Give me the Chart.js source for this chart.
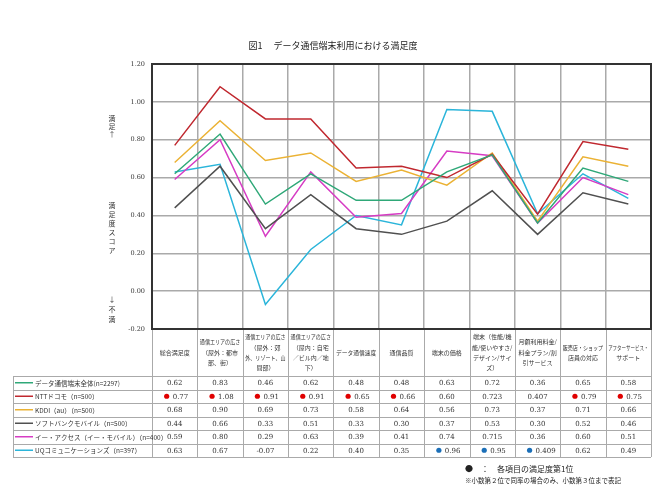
<!DOCTYPE html>
<html>
<head>
<meta charset="utf-8">
<title>データ通信端末利用における満足度</title>
<script src="https://cdn.jsdelivr.net/npm/chart.js"></script>
<style>
  html, body { margin: 0; padding: 0; background: #fff; }
</style>
</head>
<body>
<canvas id="satChart" width="666" height="500"></canvas>
<script>
// categories (header text is wrapped the way the table shows it)
const categories = [
  '総合満足度',
  '通信エリアの広さ（屋外：都市部、街）',
  '通信エリアの広さ（屋外：郊外、リゾート、山間部）',
  '通信エリアの広さ（屋内：自宅／ビル内／地下）',
  'データ通信速度',
  '通信品質',
  '端末の価格',
  '端末（性能/機能/使いやすさ/デザイン/サイズ）',
  '月額利用料金/料金プラン/割引サービス',
  '販売店・ショップ店員の対応',
  'アフターサービス・サポート'
];
const headerLines = [
  ['総合満足度'],
  ['通信エリアの広さ', '（屋外：都市', '部、街）'],
  ['通信エリアの広さ', '（屋外：郊', '外、リゾート、山', '間部）'],
  ['通信エリアの広さ', '（屋内：自宅', '／ビル内／地', '下）'],
  ['データ通信速度'],
  ['通信品質'],
  ['端末の価格'],
  ['端末（性能/機', '能/使いやすさ/', 'デザイン/サイ', 'ズ）'],
  ['月額利用料金/', '料金プラン/割', '引サービス'],
  ['販売店・ショップ', '店員の対応'],
  ['アフターサービス・', 'サポート']
];

const seriesNames = [
  'データ通信端末全体(n=2297)',
  'NTTドコモ（n=500）',
  'KDDI（au）（n=500）',
  'ソフトバンクモバイル（n=500）',
  'イー・アクセス（イー・モバイル）（n=400）',
  'UQコミュニケーションズ（n=397）'
];
const zentai   = [0.62, 0.83, 0.46, 0.62, 0.48, 0.48, 0.63, 0.72, 0.36, 0.65, 0.58];
const docomo   = [0.77, 1.08, 0.91, 0.91, 0.65, 0.66, 0.60, 0.723, 0.407, 0.79, 0.75];
const kddi     = [0.68, 0.90, 0.69, 0.73, 0.58, 0.64, 0.56, 0.73, 0.37, 0.71, 0.66];
const softbank = [0.44, 0.66, 0.33, 0.51, 0.33, 0.30, 0.37, 0.53, 0.30, 0.52, 0.46];
const emobile  = [0.59, 0.80, 0.29, 0.63, 0.39, 0.41, 0.74, 0.715, 0.36, 0.60, 0.51];
const uq       = [0.63, 0.67, -0.07, 0.22, 0.40, 0.35, 0.96, 0.95, 0.409, 0.62, 0.49];
const seriesData = [zentai, docomo, kddi, softbank, emobile, uq];

const seriesColors = ['#2fa878', '#c0282f', '#ebb234', '#505050', '#d63cc4', '#2bb5da'];
const topDotColors = [null, '#e00000', '#e00000', '#e00000', '#e00000', '#1b6fb8'];

const yMin = -0.2, yMax = 1.2, yStep = 0.2;

const JP = '"Noto Sans CJK JP", sans-serif';
const NUM = '"DejaVu Serif", serif';

function fmt(v) {
  const h = v * 100;
  return Math.abs(h - Math.round(h)) < 1e-6 ? v.toFixed(2) : v.toFixed(3);
}

// index of the best carrier (total row excluded) per column
function topIndex(col) {
  let best = 1;
  for (let s = 2; s < seriesData.length; s++) {
    if (seriesData[s][col] > seriesData[best][col]) best = s;
  }
  return best;
}

const tablePlugin = {
  id: 'dataTable',
  afterDraw(chart) {
    const c = chart.ctx;
    const area = chart.chartArea;
    const x = chart.scales.x;
    const half = (x.getPixelForValue(1) - x.getPixelForValue(0)) / 2;
    const tableLeft = 13;
    const headTop = area.bottom;
    const headH = 47;
    const rowH = 13.5;
    const bodyTop = headTop + headH;
    const bodyBottom = bodyTop + rowH * seriesNames.length;

    c.save();
    // grid of the table
    c.strokeStyle = '#aaaaaa';
    c.lineWidth = 1;
    c.beginPath();
    for (let i = 0; i <= categories.length; i++) {
      const px = Math.round(x.getPixelForValue(i) - half) + 0.5;
      c.moveTo(px, headTop);
      c.lineTo(px, bodyBottom);
    }
    for (let r = 0; r <= seriesNames.length; r++) {
      const py = Math.round(bodyTop + r * rowH) + 0.5;
      c.moveTo(tableLeft, py);
      c.lineTo(area.right, py);
    }
    c.moveTo(tableLeft + 0.5, bodyTop);
    c.lineTo(tableLeft + 0.5, bodyBottom);
    c.stroke();

    // header texts
    c.fillStyle = '#333';
    c.textAlign = 'center';
    c.textBaseline = 'middle';
    c.font = '6px ' + JP;
    const lh = 10.3;
    headerLines.forEach((lines, i) => {
      const cx = x.getPixelForValue(i);
      const y0 = headTop + headH / 2 - (lines.length - 1) * lh / 2;
      lines.forEach((t, k) => c.fillText(t, cx, y0 + k * lh, half * 2 - 5));
    });

    // rows
    seriesNames.forEach((name, s) => {
      const cy = bodyTop + rowH * s + rowH / 2;
      c.strokeStyle = seriesColors[s];
      c.lineWidth = 1.5;
      c.beginPath();
      c.moveTo(15, cy);
      c.lineTo(33, cy);
      c.stroke();
      c.fillStyle = '#333';
      c.textAlign = 'left';
      c.font = '6.5px ' + JP;
      c.fillText(name, 35, cy + 0.5);

      c.font = '7px ' + NUM;
      seriesData[s].forEach((v, i) => {
        const cx = x.getPixelForValue(i);
        const isTop = s > 0 && topIndex(i) === s;
        c.fillStyle = '#333';
        if (isTop) {
          c.textAlign = 'left';
          c.fillText(fmt(v), cx - 2, cy + 0.5);
          c.fillStyle = topDotColors[s];
          c.beginPath();
          c.arc(cx - 8, cy, 2.6, 0, Math.PI * 2);
          c.fill();
        } else {
          c.textAlign = 'center';
          c.fillText(fmt(v), cx, cy + 0.5);
        }
      });
    });

    // title
    c.fillStyle = '#222';
    c.textAlign = 'center';
    c.font = '9px ' + JP;
    c.fillText('図1　 データ通信端末利用における満足度', 333, 46);

    // vertical axis caption
    c.font = '7px ' + JP;
    c.fillStyle = '#333';
    const stack = (txt, px, py, step) => {
      [...txt].forEach((ch, k) => c.fillText(ch, px, py + k * step));
    };
    stack('満足↑', 112, 118, 8);
    stack('満足度スコア', 112, 205, 9);
    stack('↓不満', 112, 299, 10);

    // foot notes
    c.textAlign = 'left';
    c.fillStyle = '#222';
    c.font = '8px ' + JP;
    c.fillText('●　：　各項目の満足度第1位', 465, 469);
    c.font = '6.5px ' + JP;
    c.fillText('※小数第２位で同率の場合のみ、小数第３位まで表記', 465, 481);

    // plot frame
    c.strokeStyle = '#333';
    c.lineWidth = 2;
    c.strokeRect(area.left, area.top, area.right - area.left, area.bottom - area.top);
    c.restore();
  }
};

new Chart(document.getElementById('satChart').getContext('2d'), {
  type: 'line',
  data: {
    labels: categories,
    datasets: seriesNames.map((name, i) => ({
      label: name,
      data: seriesData[i],
      borderColor: seriesColors[i],
      backgroundColor: seriesColors[i],
      borderWidth: 1.5,
      pointRadius: 0,
      tension: 0,
      fill: false
    }))
  },
  options: {
    responsive: false,
    animation: false,
    layout: { padding: { left: 100, right: 15, top: 64, bottom: 171 } },
    plugins: {
      legend: { display: false },
      title: { display: false },
      tooltip: { enabled: false }
    },
    scales: {
      x: {
        offset: true,
        grid: { offset: true, color: '#aaaaaa', lineWidth: 1.5, drawTicks: false },
        border: { display: false },
        ticks: { display: false },
        afterFit(s) { s.height = 0; }
      },
      y: {
        min: yMin,
        max: yMax,
        ticks: {
          stepSize: yStep,
          padding: 7,
          color: '#333',
          font: { family: 'DejaVu Serif', size: 6.5 },
          callback: v => (Math.abs(v) < 1e-9 ? 0 : v).toFixed(2)
        },
        grid: { color: '#aaaaaa', lineWidth: 1.5, drawTicks: false },
        border: { display: false },
        afterFit(s) { s.width = 52; }
      }
    }
  },
  plugins: [tablePlugin]
});
</script>
</body>
</html>
